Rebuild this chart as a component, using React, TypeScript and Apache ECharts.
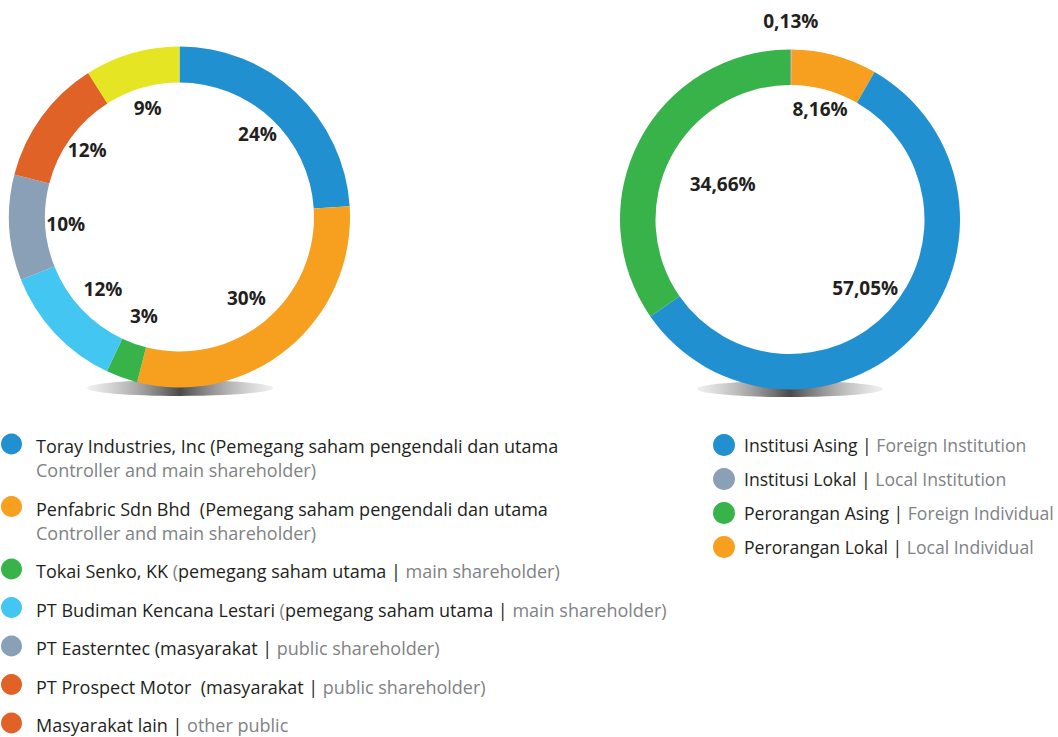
import React, { useEffect, useRef } from "react";
import * as echarts from "echarts";

// ---------- data ----------
const leftNames = [
  "Toray Industries, Inc",
  "Penfabric Sdn Bhd",
  "Tokai Senko, KK",
  "PT Budiman Kencana Lestari",
  "PT Easterntec",
  "PT Prospect Motor",
  "Masyarakat lain",
];
const leftValues = [24, 30, 3, 12, 10, 12, 9];
const leftColors = ["#2190d0", "#f7a01f", "#37b34a", "#43c6f1", "#8aa0b6", "#e06227", "#e5e524"];
// bullet colours as printed in the reference legend
const leftLegendColors = ["#2190d0", "#f7a01f", "#37b34a", "#43c6f1", "#8aa0b6", "#e06227", "#e06227"];
// which label ring each left label sits on (0 = outer-ish, 1 = inner-ish)
const leftLabelRing = [0, 1, 1, 1, 0, 0, 0];

const rightNames = ["Institusi Lokal", "Perorangan Lokal", "Institusi Asing", "Perorangan Asing"];
const rightValues = [0.13, 8.16, 57.05, 34.66];
const rightColors = ["#8aa0b6", "#f7a01f", "#2190d0", "#37b34a"];
// label ring for each right slice: 0 outside, 1 middle, 2 inner, 3 deep
const rightLabelRing = [0, 1, 2, 3];

const rightLegendOrder = ["Institusi Asing", "Institusi Lokal", "Perorangan Asing", "Perorangan Lokal"];
const rightLegendEnglish = ["Foreign Institution", "Local Institution", "Foreign Individual", "Local Individual"];

// left legend rows: each row is a list of lines, each line a list of [text, tone]
const leftLegendRows: [string, string][][][] = [
  [
    [["Toray Industries, Inc (Pemegang saham pengendali dan utama", "d"]],
    [["Controller and main shareholder)", "g"]],
  ],
  [
    [["Penfabric Sdn Bhd  (Pemegang saham pengendali dan utama", "d"]],
    [["Controller and main shareholder)", "g"]],
  ],
  [[["Tokai Senko, KK ", "d"], ["(", "g"], ["pemegang saham utama | ", "d"], ["main shareholder)", "g"]]],
  [[["PT Budiman Kencana Lestari ", "d"], ["(", "g"], ["pemegang saham utama | ", "d"], ["main shareholder)", "g"]]],
  [[["PT Easterntec (masyarakat | ", "d"], ["public shareholder)", "g"]]],
  [[["PT Prospect Motor  (masyarakat | ", "d"], ["public shareholder)", "g"]]],
  [[["Masyarakat lain | ", "d"], ["other public", "g"]]],
];

const DARK = "#231f20";
const GRAY = "#808285";
const FONT = "'Open Sans', 'Noto Sans', sans-serif";

function fmtLeft(v: number) {
  return `${v}%`;
}
function fmtRight(v: number) {
  return `${v.toFixed(2).replace(".", ",")}%`;
}

function mainRing(center: number[], radius: number[], names: string[], values: number[], colors: string[]) {
  return {
    type: "pie",
    center,
    radius,
    startAngle: 90,
    clockwise: true,
    silent: true,
    z: 3,
    label: { show: false },
    labelLine: { show: false },
    emphasis: { disabled: true },
    itemStyle: { borderWidth: 0 },
    data: names.map((n, i) => ({ name: n, value: values[i], itemStyle: { color: colors[i] } })),
  };
}

function labelRing(
  center: number[],
  mid: number,
  names: string[],
  values: number[],
  ringOf: number[],
  ringIdx: number,
  fmt: (v: number) => string
) {
  return {
    type: "pie",
    center,
    radius: [mid - 8, mid + 8],
    startAngle: 90,
    clockwise: true,
    silent: true,
    z: 5,
    emphasis: { disabled: true },
    itemStyle: { color: "rgba(0,0,0,0)", borderWidth: 0 },
    labelLine: { show: false },
    label: {
      show: true,
      position: "inside",
      color: DARK,
      fontFamily: FONT,
      fontWeight: "bold",
      fontSize: 19,
      formatter: (p: any) => (ringOf[p.dataIndex] === ringIdx ? fmt(p.value) : ""),
    },
    data: names.map((n, i) => ({ name: n, value: values[i] })),
  };
}

function shadow(cx: number, cy: number) {
  return {
    type: "ellipse",
    z: 0,
    silent: true,
    shape: { cx, cy, rx: 93, ry: 8 },
    style: {
      fill: {
        type: "linear",
        x: 0,
        y: 0,
        x2: 1,
        y2: 0,
        colorStops: [
          { offset: 0, color: "rgba(225,225,225,0.5)" },
          { offset: 0.5, color: "#4a4a4a" },
          { offset: 1, color: "rgba(225,225,225,0.5)" },
        ],
      },
    },
  };
}

export default function App() {
  const ref = useRef<HTMLDivElement>(null);

  useEffect(() => {
    document.body.style.margin = "0";
    if (!ref.current) return;
    const chart = echarts.init(ref.current, undefined, { renderer: "svg" });

    const LC = [179.5, 217];
    const RC = [790, 219.5];

    const graphics: any[] = [shadow(180, 388), shadow(790, 389)];

    // left legend
    const LFS = 18;
    let y = 446;
    leftLegendRows.forEach((row, i) => {
      graphics.push({
        type: "circle",
        silent: true,
        shape: { cx: 11.5, cy: y - 2, r: 10.5 },
        style: { fill: leftLegendColors[i] },
      });
      row.forEach((line, li) => {
        const text = line.map(([t, tone]) => `{${tone}|${t}}`).join("");
        graphics.push({
          type: "text",
          silent: true,
          x: 36,
          y: y + li * 24,
          style: {
            text,
            verticalAlign: "middle",
            fontFamily: FONT,
            fontSize: LFS,
            lineHeight: 17,
            rich: {
              d: { fill: DARK, fontFamily: FONT, fontSize: LFS, lineHeight: 17 },
              g: { fill: GRAY, fontFamily: FONT, fontSize: LFS, lineHeight: 17 },
            },
          },
        });
      });
      y += 38.5 + (row.length - 1) * 24;
    });

    const RFS = 17.6;
    const option: any = {
      animation: false,
      backgroundColor: "#ffffff",
      legend: {
        orient: "vertical",
        left: 708,
        top: 429,
        itemWidth: 22,
        itemHeight: 22,
        itemGap: 12,
        icon: "circle",
        selectedMode: false,
        data: rightLegendOrder.map((n) => ({
          name: n,
          itemStyle: { color: rightColors[rightNames.indexOf(n)] },
        })),
        formatter: (name: string) =>
          `{d|${name} | }{g|${rightLegendEnglish[rightLegendOrder.indexOf(name)]}}`,
        textStyle: {
          fontFamily: FONT,
          fontSize: RFS,
          padding: [0, 0, 0, 4],
          rich: {
            d: { color: DARK, fontFamily: FONT, fontSize: RFS },
            g: { color: GRAY, fontFamily: FONT, fontSize: RFS },
          },
        },
      },
      graphic: graphics,
      series: [
        mainRing(LC, [134.5, 170.5], leftNames, leftValues, leftColors),
        labelRing(LC, 111, leftNames, leftValues, leftLabelRing, 0, fmtLeft),
        labelRing(LC, 102, leftNames, leftValues, leftLabelRing, 1, fmtLeft),
        mainRing(RC, [134.5, 170], rightNames, rightValues, rightColors),
        labelRing(RC, 196, rightNames, rightValues, rightLabelRing, 0, fmtRight),
        labelRing(RC, 112, rightNames, rightValues, rightLabelRing, 1, fmtRight),
        labelRing(RC, 99, rightNames, rightValues, rightLabelRing, 2, fmtRight),
        labelRing(RC, 73, rightNames, rightValues, rightLabelRing, 3, fmtRight),
      ],
    };

    chart.setOption(option);
    return () => chart.dispose();
  }, []);

  return <div ref={ref} style={{ width: 1058, height: 737 }} />;
}
